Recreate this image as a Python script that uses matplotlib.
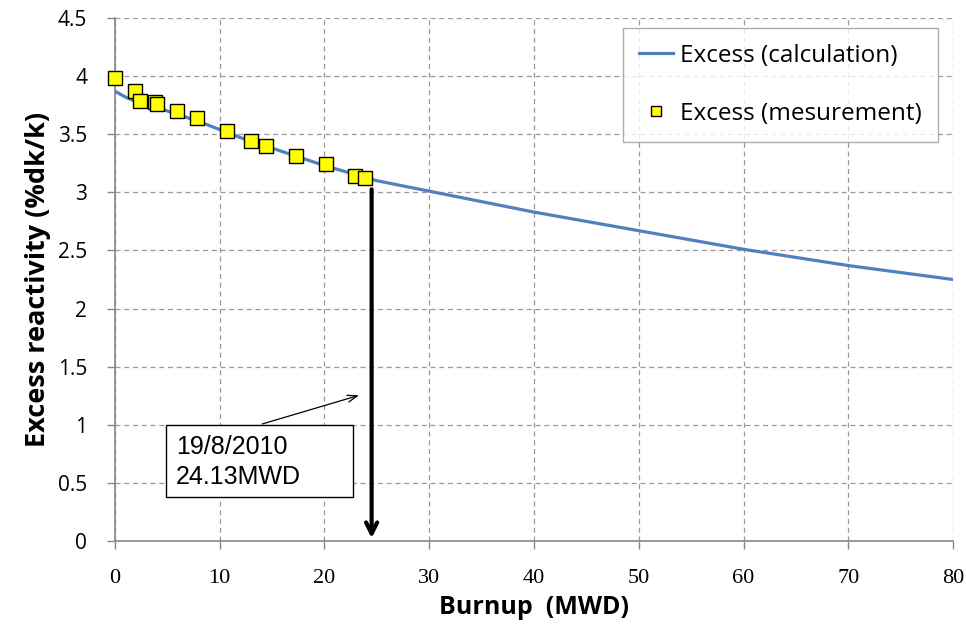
import matplotlib
matplotlib.use("Agg")
import matplotlib.pyplot as plt
from matplotlib.patches import Rectangle

# Data
calc_burnup = [0, 1, 2, 4, 6, 8, 10, 12, 15, 20, 25, 30, 35, 40, 45, 50, 55, 60, 65, 70, 75, 80]
calc_excess = [3.87, 3.82, 3.78, 3.73, 3.67, 3.61, 3.54, 3.47, 3.38, 3.23, 3.10, 3.01, 2.92, 2.83, 2.75, 2.67, 2.59, 2.51, 2.44, 2.37, 2.31, 2.25]
meas_burnup = [0.0, 1.9, 2.4, 3.85, 4.05, 5.95, 7.85, 10.65, 13.0, 14.4, 17.3, 20.1, 22.9, 23.9]
meas_excess = [3.98, 3.87, 3.79, 3.78, 3.76, 3.70, 3.64, 3.53, 3.44, 3.40, 3.31, 3.24, 3.14, 3.12]
x_ticks = [0, 10, 20, 30, 40, 50, 60, 70, 80]
y_ticks = [0, 0.5, 1, 1.5, 2, 2.5, 3, 3.5, 4, 4.5]
y_tick_labels = ["0", "0.5", "1", "1.5", "2", "2.5", "3", "3.5", "4", "4.5"]
marker_burnup = 24.5
annot_text = "19/8/2010\n24.13MWD"

fig = plt.figure(figsize=(9.66, 6.34), dpi=100)
ax = fig.add_axes([0.119, 0.1467, 0.8676, 0.8249])

ax.plot(calc_burnup, calc_excess, color="#4F81BD", lw=2.3, label="Excess (calculation)", zorder=3)
ax.plot(meas_burnup, meas_excess, ls="none", marker="s", ms=10.5, mfc="#FFFF00",
        mec="black", mew=1.0, label="Excess (mesurement)", zorder=4, clip_on=False)

ax.set_xlim(0, 80)
ax.set_ylim(0, 4.5)
ax.set_xticks(x_ticks)
ax.set_yticks(y_ticks)
ax.set_yticklabels(y_tick_labels)

ax.grid(True, ls=(0, (4, 3)), color="#999999", lw=0.9)
ax.set_axisbelow(True)
for s in ["top", "right"]:
    ax.spines[s].set_visible(False)
for s in ["left", "bottom"]:
    ax.spines[s].set_color("#888888")
    ax.spines[s].set_linewidth(1.2)
ax.tick_params(axis="both", colors="#888888", length=6, width=1)
ax.tick_params(axis="y", labelcolor="black", labelsize=15, pad=14)
ax.tick_params(axis="x", labelcolor="black", labelsize=16, pad=14)
for lab in ax.get_yticklabels():
    lab.set_fontfamily("Open Sans")
for lab in ax.get_xticklabels():
    lab.set_fontfamily("Liberation Serif")

ax.set_xlabel("Burnup  (MWD)", fontsize=18, fontweight="bold", family="Open Sans", labelpad=5)
ax.set_ylabel("Excess reactivity (%dk/k)", fontsize=19.5, fontweight="bold", family="Open Sans", labelpad=5)

# Thick arrow down
ax.annotate("", xy=(marker_burnup, 0), xytext=(marker_burnup, 3.05),
            arrowprops=dict(arrowstyle="->,head_length=0.8,head_width=0.4", color="black", lw=3),
            zorder=5)

# Annotation box with thin arrow
ax.annotate("", xy=(23.55, 1.26), xytext=(13.8, 1.0),
            arrowprops=dict(arrowstyle="->,head_length=0.7,head_width=0.25", color="black", lw=0.9),
            zorder=5)
ax.add_patch(Rectangle((4.84, 0.38), 17.9, 0.62, fc="white", ec="black", lw=1.0, zorder=6))
ax.text(5.8, 0.68, annot_text, fontsize=18, family="Liberation Sans", va="center", ha="left",
        linespacing=1.3, zorder=7)

leg = ax.legend(loc="upper right", bbox_to_anchor=(0.982, 0.981), prop={"family": "Open Sans", "size": 17.5},
                frameon=True, fancybox=False, edgecolor="#999999", borderpad=0.65,
                labelspacing=1.4, handlelength=1.4, handletextpad=0.3, markerscale=0.75,
                borderaxespad=0)
leg.get_frame().set_linewidth(1.0)

fig.savefig("out.png", dpi=100)
